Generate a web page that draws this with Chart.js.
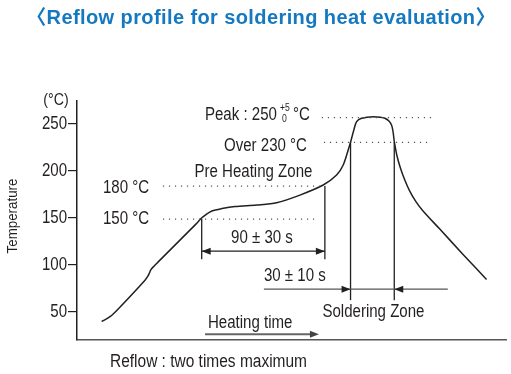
<!DOCTYPE html>
<html>
<head>
<meta charset="utf-8">
<script src="https://cdn.jsdelivr.net/npm/chart.js@4"></script>
<style>
  html, body { margin: 0; padding: 0; background: #fff; }
  #wrap { width: 511px; height: 374px; position: relative; }
</style>
</head>
<body>
<div id="wrap"><canvas id="reflow" width="511" height="374"></canvas></div>
<script>
// temperature profile (time in s, temperature in °C)
const curveTime = [17.9, 23.9, 29.7, 49.3, 51.8, 53.6, 55.8, 58.7, 86.2, 89.9, 93.5, 97.8, 105.1, 114.5, 130.2, 144.7, 161.6, 178.5, 188.2, 193.0, 196.6, 198.3, 200.7, 202.7, 206.3, 214.7, 223.2, 228.0, 230.1, 231.9, 234.4, 237.7, 241.3, 245.7, 250.7, 263.0, 279.7, 296.9];
const curveTemp = [39.7, 44.8, 52.8, 83.7, 89.0, 94.9, 98.6, 102.9, 143.4, 149.3, 153.5, 157.3, 159.9, 162.1, 163.7, 166.1, 174.3, 185.0, 195.6, 206.3, 222.3, 230.5, 243.6, 252.5, 256.1, 257.8, 256.1, 248.9, 230.5, 216.4, 203.4, 190.0, 178.3, 167.4, 157.7, 138.1, 111.4, 84.4];
const yTicks = [50, 100, 150, 200, 250];

// zones (s)
const preheatZone = [90.4, 179.7];
const solderZone = [198.3, 230.0];

const FONT = "'Liberation Sans', Arial, sans-serif";
const INK = '#231f20';
const NARROW = 0.86;

const points = curveTime.map((t, i) => ({ x: t, y: curveTemp[i] }));

// Arial squeezed horizontally, close to the condensed face of the original
function narrowText(ctx, text, x, y, align, size) {
    ctx.save();
    ctx.translate(x, y);
    ctx.scale(NARROW, 1);
    ctx.font = size + 'px ' + FONT;
    ctx.textAlign = align;
    ctx.textBaseline = 'middle';
    ctx.fillText(text, 0, 0);
    ctx.restore();
}

function arrowHead(ctx, x, y, dir) {
    ctx.beginPath();
    ctx.moveTo(x, y);
    ctx.lineTo(x - dir * 9, y - 3.5);
    ctx.lineTo(x - dir * 9, y + 3.5);
    ctx.closePath();
    ctx.fill();
}

const annotations = {
    id: 'annotations',
    afterDatasetsDraw(chart) {
        const ctx = chart.ctx;
        const xs = chart.scales.x, ys = chart.scales.y;
        const px = v => xs.getPixelForValue(v);
        const py = v => ys.getPixelForValue(v);

        ctx.save();
        // dotted level lines
        ctx.strokeStyle = '#555';
        ctx.lineWidth = 1.2;
        ctx.setLineDash([1.2, 4.8]);
        [[256.7, 177.5, 257.2], [230.5, 179, 257.2], [183.9, 62.3, 176.1], [148.7, 62.3, 174.6]].forEach(([lv, a, b]) => {
            ctx.beginPath();
            ctx.moveTo(px(a), py(lv));
            ctx.lineTo(px(b), py(lv));
            ctx.stroke();
        });
        ctx.setLineDash([]);

        // zone markers
        ctx.strokeStyle = INK;
        ctx.fillStyle = INK;
        ctx.lineWidth = 1.3;
        const vline = (t, a, b) => {
            ctx.beginPath();
            ctx.moveTo(px(t), py(a));
            ctx.lineTo(px(t), py(b));
            ctx.stroke();
        };
        vline(preheatZone[0], 148.7, 106);
        vline(preheatZone[1], 183.9, 106);
        vline(solderZone[0], 230.5, 62.4);
        vline(solderZone[1], 230.5, 62.4);

        // 90 ± 30 s arrow
        let y = py(114.6);
        ctx.beginPath();
        ctx.moveTo(px(preheatZone[0]), y);
        ctx.lineTo(px(preheatZone[1]), y);
        ctx.stroke();
        arrowHead(ctx, px(preheatZone[0]), y, -1);
        arrowHead(ctx, px(preheatZone[1]), y, 1);

        // 30 ± 10 s line
        y = py(74.1);
        ctx.strokeStyle = '#555';
        ctx.beginPath();
        ctx.moveTo(px(135.5), y);
        ctx.lineTo(px(268.8), y);
        ctx.stroke();
        arrowHead(ctx, px(solderZone[0]), y, 1);
        arrowHead(ctx, px(solderZone[1]), y, -1);

        // heating time arrow
        y = py(26.1);
        ctx.strokeStyle = '#666';
        ctx.fillStyle = '#444';
        ctx.lineWidth = 2;
        ctx.beginPath();
        ctx.moveTo(px(92.8), y);
        ctx.lineTo(px(175.4) - 6, y);
        ctx.stroke();
        arrowHead(ctx, px(175.4), y, 1);

        // labels
        ctx.fillStyle = INK;
        const label = (text, t, v, align) => narrowText(ctx, text, px(t), py(v), align, 17.5);
        label('Over 230 °C', 166.7, 226.5, 'right');
        label('Pre Heating Zone', 127.9, 198.8, 'center');
        label('180 °C', 18.8, 181.8, 'left');
        label('150 °C', 18.8, 148.7, 'left');
        label('90 ± 30 s', 134.1, 128.5, 'center');
        label('30 ± 10 s', 135.5, 88.0, 'left');
        label('Soldering Zone', 214.9, 49.6, 'center');
        label('Heating time', 94.9, 37.8, 'left');

        // peak label with tolerance
        label('Peak : 250', 144.9, 259.6, 'right');
        const pxx = px(144.9), pyy = py(259.6);
        narrowText(ctx, '+5', pxx + 3, pyy - 7, 'left', 10);
        narrowText(ctx, '0', pxx + 5, pyy + 4, 'left', 10);
        narrowText(ctx, '°C', pxx + 16, pyy, 'left', 17.5);

        // y tick labels
        yTicks.forEach(v => narrowText(ctx, String(v), 67, py(v), 'right', 17.5));
        ctx.restore();
    },
    afterDraw(chart) {
        const ctx = chart.ctx;
        ctx.save();
        ctx.fillStyle = '#1479c0';
        ctx.font = "bold 20px 'Liberation Sans', Arial, 'Noto Sans CJK JP', sans-serif";
        ctx.letterSpacing = '0.4px';
        ctx.textAlign = 'center';
        ctx.textBaseline = 'middle';
        ctx.fillText('〈Reflow profile for soldering heat evaluation〉', 261, 18);
        ctx.letterSpacing = '0px';

        ctx.fillStyle = INK;
        narrowText(ctx, '(°C)', 56, 100, 'center', 16.5);
        narrowText(ctx, 'Reflow : two times maximum', 110, 362, 'left', 18);

        ctx.translate(13, 216);
        ctx.rotate(-Math.PI / 2);
        narrowText(ctx, 'Temperature', 0, 0, 'center', 15.5);
        ctx.restore();
    }
};

new Chart(document.getElementById('reflow'), {
    type: 'line',
    data: {
        datasets: [{
            data: points,
            borderColor: INK,
            borderWidth: 1.5,
            pointRadius: 0,
            fill: false,
            tension: 0.3
        }]
    },
    options: {
        responsive: false,
        animation: false,
        layout: { padding: { left: 0, right: 5, top: 100.5, bottom: 34 } },
        plugins: { legend: { display: false }, tooltip: { enabled: false } },
        scales: {
            x: {
                type: 'linear',
                min: 0,
                max: 311,
                ticks: { display: false },
                grid: { display: false },
                border: { display: true, color: '#555', width: 1.5 },
                afterFit: s => { s.height = 0; }
            },
            y: {
                min: 20,
                max: 275,
                afterBuildTicks: s => { s.ticks = yTicks.map(v => ({ value: v })); },
                ticks: { display: false },
                grid: { drawOnChartArea: false, tickLength: 9, color: INK, lineWidth: 1.2 },
                border: { display: true, color: INK, width: 1.5 },
                afterFit: s => { s.width = 77; }
            }
        }
    },
    plugins: [annotations]
});
</script>
</body>
</html>
